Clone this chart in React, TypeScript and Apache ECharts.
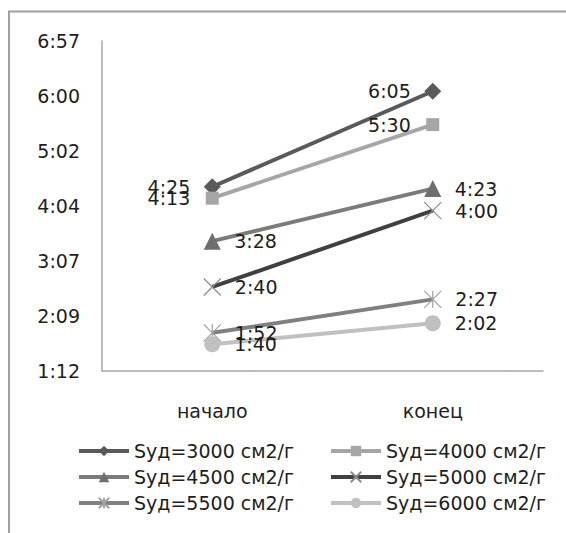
import React, { useEffect, useRef } from "react";
import * as echarts from "echarts";

const categories = ["начало", "конец"];
const seriesNames = [
  "Sуд=3000 см2/г",
  "Sуд=4000 см2/г",
  "Sуд=4500 см2/г",
  "Sуд=5000 см2/г",
  "Sуд=5500 см2/г",
  "Sуд=6000 см2/г",
];
// values in minutes (h:mm)
const s3000 = [265, 365]; // 4:25, 6:05
const s4000 = [253, 330]; // 4:13, 5:30
const s4500 = [208, 263]; // 3:28, 4:23
const s5000 = [160, 240]; // 2:40, 4:00
const s5500 = [112, 147]; // 1:52, 2:27
const s6000 = [100, 122]; // 1:40, 2:02
const seriesValues = [s3000, s4000, s4500, s5000, s5500, s6000];
// y tick values in minutes: 1:12, 2:09, 3:07, 4:04, 5:02, 6:00, 6:57
const yTicks = [72, 129.6, 187.2, 244.8, 302.4, 360, 417.6];

const FONT = "DejaVu Sans";

function fmt(m: number): string {
  const h = Math.floor(m / 60 + 1e-9);
  const mm = Math.floor(m - h * 60 + 1e-6);
  return h + ":" + (mm < 10 ? "0" + mm : String(mm));
}

const xPath = "path://M0,0L10,10M10,0L0,10";
const starPath = "path://M0,0L10,10M10,0L0,10M5,0L5,10";

const styles = [
  { line: "#5a5a5a", fill: "#5a5a5a", symbol: "diamond", size: 17, pos: "left", stroke: 0 },
  { line: "#a6a6a6", fill: "#a6a6a6", symbol: "rect", size: 13, pos: "left", stroke: 0 },
  { line: "#7b7b7b", fill: "#6e6e6e", symbol: "triangle", size: 17, pos: "right", stroke: 0 },
  { line: "#404040", fill: "#8c8c8c", symbol: xPath, size: 17, pos: "right", stroke: 1.2 },
  { line: "#808080", fill: "#a0a0a0", symbol: starPath, size: 17, pos: "right", stroke: 1.2 },
  { line: "#c0c0c0", fill: "#c0c0c0", symbol: "circle", size: 16, pos: "right", stroke: 0 },
];

export default function App() {
  const ref = useRef<HTMLDivElement>(null);
  useEffect(() => {
    if (!ref.current) return;
    const chart = echarts.init(ref.current, null, { renderer: "svg" });
    const series = seriesNames.map((name, i) => {
      const st = styles[i];
      return {
        name,
        type: "line",
        data: seriesValues[i],
        symbol: st.symbol,
        symbolSize: st.size,
        lineStyle: { color: st.line, width: 4 },
        itemStyle: {
          color: st.fill,
          borderColor: st.fill,
          borderWidth: st.stroke,
        },
        label: {
          show: true,
          position: st.pos,
          distance: 22 - st.size / 2,
          formatter: (p: any) => fmt(p.value),
          fontFamily: FONT,
          fontSize: 19,
          color: "#1e1e1e",
        },
      };
    });
    const legendBase = {
      orient: "vertical",
      top: 436,
      itemWidth: 50,
      itemHeight: 13,
      itemGap: 6,
      selectedMode: false,
      lineStyle: { width: 4 },
      textStyle: { fontFamily: FONT, fontSize: 19, color: "#1e1e1e", lineHeight: 20 },
    };
    chart.setOption({
      animation: false,
      backgroundColor: "#ffffff",
      graphic: [
        {
          type: "rect",
          silent: true,
          shape: { x: 9, y: 11.5, width: 700, height: 700 },
          style: { fill: "none", stroke: "#a0a0a0", lineWidth: 2 },
        },
      ],
      grid: { left: 102, right: 23, top: 41, bottom: 162, containLabel: false },
      xAxis: {
        type: "category",
        data: categories,
        boundaryGap: true,
        axisLine: { show: true, lineStyle: { color: "#a8a8a8", width: 1.5 } },
        axisTick: { show: false },
        axisLabel: { margin: 30, fontFamily: FONT, fontSize: 19, color: "#1e1e1e" },
      },
      yAxis: {
        type: "value",
        min: 72,
        max: 417.6,
        axisLine: { show: true, lineStyle: { color: "#a8a8a8", width: 1.5 } },
        axisTick: { show: false },
        splitLine: { show: false },
        axisLabel: {
          customValues: yTicks,
          margin: 22,
          fontFamily: FONT,
          fontSize: 19,
          color: "#1e1e1e",
          formatter: (v: number) => fmt(v),
        },
      },
      legend: [
        { ...legendBase, left: 72, data: [seriesNames[0], seriesNames[2], seriesNames[4]] },
        { ...legendBase, left: 324, data: [seriesNames[1], seriesNames[3], seriesNames[5]] },
      ],
      series,
    });
    return () => chart.dispose();
  }, []);
  return (
    <div
      ref={ref}
      style={{ position: "fixed", left: 0, top: 0, width: 566, height: 533, background: "#fff" }}
    />
  );
}
